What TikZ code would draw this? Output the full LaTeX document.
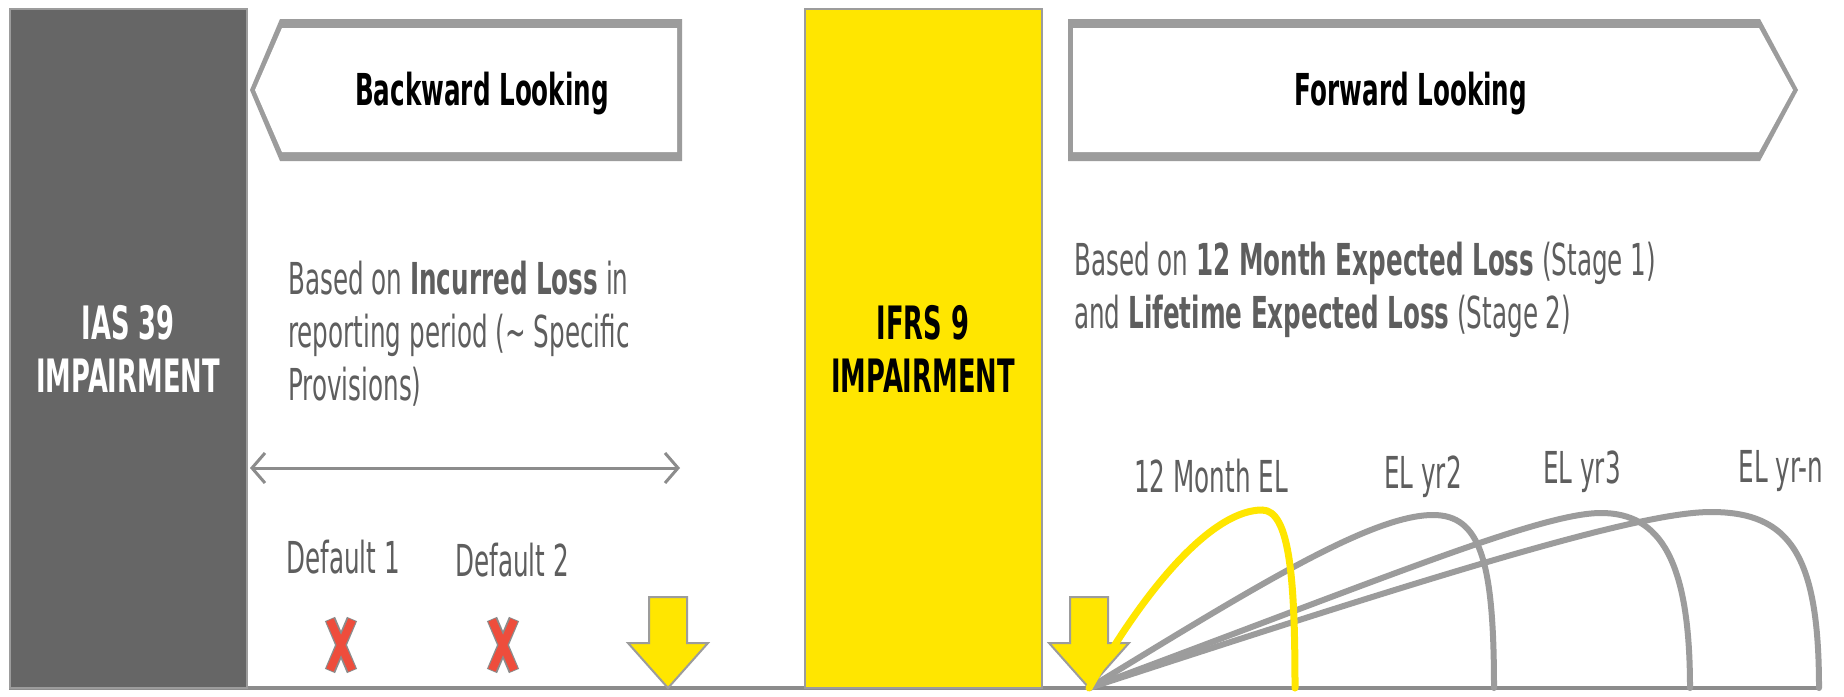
\documentclass[tikz,border=0pt]{standalone}
\usepackage{fontspec}
\setmainfont[FakeStretch=0.56]{DejaVu Sans}
\usetikzlibrary{arrows.meta}

\definecolor{darkbox}{HTML}{666666}
\definecolor{eyyellow}{HTML}{FFE600}
\definecolor{rulegray}{HTML}{9C9C9C}
\definecolor{axisgray}{HTML}{8C8C8C}
\definecolor{textgray}{HTML}{5E5E5E}
\definecolor{xred}{HTML}{EE4D3C}

\begin{document}
\begin{tikzpicture}[x=1pt, y=-1pt,
    txt/.style={font=\fontsize{44}{53}\selectfont, text=textgray, inner sep=0pt},
    head/.style={font=\fontsize{44}{53}\selectfont\bfseries, inner sep=0pt},
    std/.style={minimum width=237pt, minimum height=679pt, line width=2pt,
                draw=rulegray, align=center, inner sep=0pt,
                font=\fontsize{46}{53}\selectfont\bfseries},
    el/.style={line width=6pt, draw=rulegray, line cap=round},
    yarrow/.style={fill=eyyellow, draw=rulegray, line width=2pt},
    barb/.style={{Straight Barb[length=13pt,width=30pt]}-{Straight Barb[length=13pt,width=30pt]},
                 line width=3pt, draw=axisgray}
  ]
  \fill[white] (0,0) rectangle (1844,696);

  % Time axis
  \coordinate (axl) at (9,688);
  \coordinate (axr) at (1819,688);
  \draw[axisgray, line width=4pt] (axl) -- (axr);

  % Standards
  \node[std, fill=darkbox, text=white] (ias) at (128,348.5) {IAS 39\\IMPAIRMENT};
  \node[std, fill=eyyellow] (ifrs) at (923,348.5) {IFRS 9\\IMPAIRMENT};

  % Backward looking banner
  \fill[rulegray] (250,90) -- (280,19) -- (682,19) -- (682,161) -- (280,161) -- cycle;
  \fill[white] (255,90) -- (282,28) -- (677,28) -- (677,152) -- (282,152) -- cycle;
  \node[head] (bwd) at (482,94) {Backward Looking};

  % Forward looking banner
  \fill[rulegray] (1068,19) -- (1760,19) -- (1798,90) -- (1760,161) -- (1068,161) -- cycle;
  \fill[white] (1073,28) -- (1759,28) -- (1793,90) -- (1759,152) -- (1073,152) -- cycle;
  \node[head] (fwd) at (1411,94) {Forward Looking};

  % Descriptions
  \node[txt, anchor=north west, align=left] (bwtxt) at (288,261)
    {Based on \textbf{Incurred Loss} in\\reporting period (\textasciitilde{} Specific\\Provisions)};
  \node[txt, anchor=north west, align=left] (fwtxt) at (1074,242)
    {Based on \textbf{12 Month Expected Loss} (Stage 1)\\and \textbf{Lifetime Expected Loss} (Stage 2)};

  % Reporting period
  \coordinate (pl) at (250,468);
  \coordinate (pr) at (680,468);
  \draw[barb] (pl) -- (pr);

  % Defaults
  \node[txt, anchor=base] (d1) at (343,573) {Default 1};
  \node[txt, anchor=base] (d2) at (512,576) {Default 2};
  \foreach \cx in {341,503} {
    \draw[axisgray, line width=11pt] (\cx-11,619) -- (\cx+11,671) (\cx+11,619) -- (\cx-11,671);
    \draw[xred, line width=8pt] (\cx-11,620) -- (\cx+11,670) (\cx+11,620) -- (\cx-11,670);
  }

  % Reporting dates
  \foreach \tx in {668,1089} {
    \draw[yarrow] (\tx-19,597) -- (\tx+19,597) -- (\tx+19,643) -- (\tx+40,643)
      -- (\tx,688) -- (\tx-40,643) -- (\tx-19,643) -- cycle;
  }

  % Expected loss horizons
  \coordinate (o) at (1089,688);
  \draw[el] (o) .. controls (1450,570) and (1640,512) .. (1711,512)
    .. controls (1790,512) and (1819,555) .. (1819,688);
  \draw[el] (o) .. controls (1380,580) and (1540,513) .. (1601,513)
    .. controls (1660,513) and (1690,560) .. (1690,688);
  \draw[el] (o) .. controls (1250,590) and (1370,515) .. (1433,515)
    .. controls (1480,515) and (1494,560) .. (1494,688);
  \draw[el, draw=eyyellow, line width=7pt] (o) .. controls (1150,580) and (1215,510) .. (1262,510)
    .. controls (1290,510) and (1295,580) .. (1295,688);

  \node[txt, anchor=base] (el1) at (1211,492) {12 Month EL};
  \node[txt, anchor=base] (el2) at (1423,488) {EL yr2};
  \node[txt, anchor=base] (el3) at (1582,483) {EL yr3};
  \node[txt, anchor=base] (eln) at (1781,482) {EL yr-n};
\end{tikzpicture}
\end{document}
